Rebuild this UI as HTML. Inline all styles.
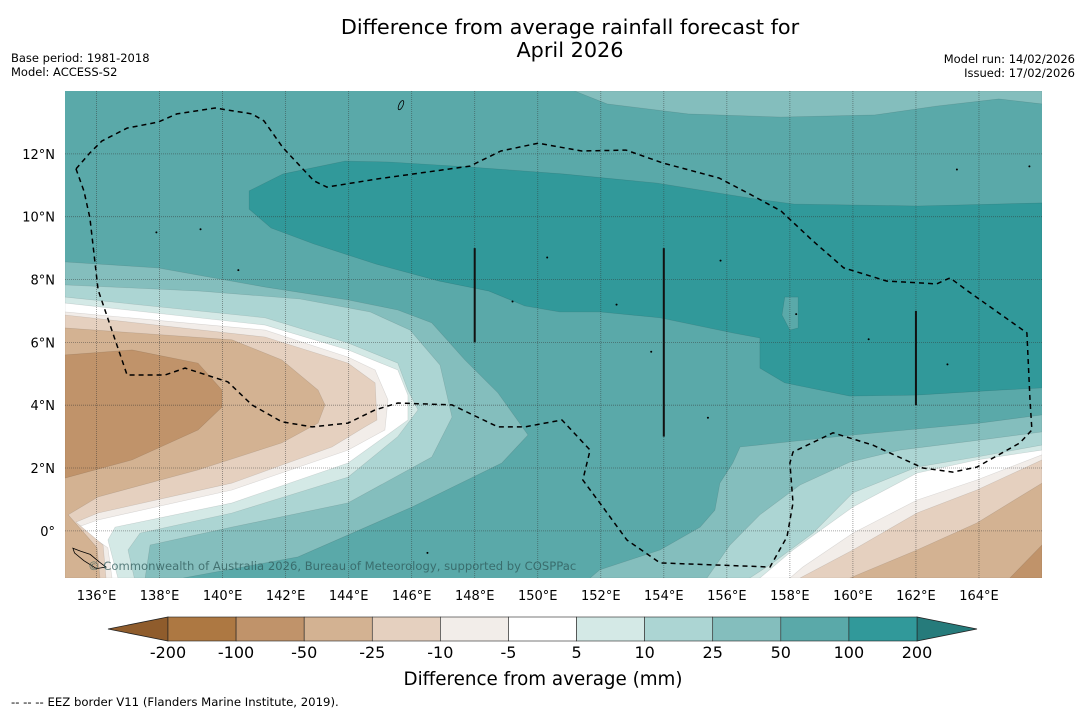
<!DOCTYPE html>
<html><head><meta charset="utf-8">
<style>
html,body{margin:0;padding:0;background:#fff;}
body{width:1085px;height:713px;overflow:hidden;font-family:"DejaVu Sans","Liberation Sans",sans-serif;}
</style></head>
<body>
<svg id="chart" width="1085" height="713" viewBox="0 0 1085 713" xmlns="http://www.w3.org/2000/svg" font-family="DejaVu Sans, Liberation Sans, sans-serif">
  <text x="570" y="34" font-size="20.8" text-anchor="middle" fill="#000">Difference from average rainfall forecast for</text>
  <text x="570" y="57" font-size="20.8" text-anchor="middle" fill="#000">April 2026</text>
  <text x="11" y="62" font-size="11.5">Base period: 1981-2018</text>
  <text x="11" y="76" font-size="11.5">Model: ACCESS-S2</text>
  <text x="1075" y="63" font-size="11.5" text-anchor="end">Model run: 14/02/2026</text>
  <text x="1075" y="77" font-size="11.5" text-anchor="end">Issued: 17/02/2026</text>
  <defs><clipPath id="mapclip"><rect x="65" y="91" width="977" height="487"/></clipPath></defs>
  <g id="map" clip-path="url(#mapclip)"></g>
  <g id="axes"></g>
  <g id="cbar"></g>
  <text x="543" y="685" font-size="18.3" text-anchor="middle">Difference from average (mm)</text>
  <text x="11" y="706" font-size="11.7">--  --  -- EEZ border V11 (Flanders Marine Institute, 2019).</text>
</svg>
<script>
const colors = ['#ad7842','#c0936a','#d3b292','#e5d0bf','#f2ede9','#ffffff','#d4e9e6','#acd5d3','#84bebd','#5aa9a9','#31999a'];
const lowExt = '#8f5c2c', highExt = '#267b7b';
const levelLabels = ['-200','-100','-50','-25','-10','-5','5','10','25','50','100','200'];
const lonTicks = [136,138,140,142,144,146,148,150,152,154,156,158,160,162,164];
const latTicks = [0,2,4,6,8,10,12];
const lonMin=135, lonMax=166, latMin=-1.5, latMax=14;

// contour polygons [lon,lat]
const topLight = [[151.17,14],[152.20,13.59],[154.77,13.27],[157.72,13.17],[160.70,13.24],[162.66,13.52],[164.63,13.75],[166,13.59],[166,14]];
const darkBand = [[140.84,10.82],[141.92,11.36],[143.88,11.77],[145.28,11.74],[147.85,11.58],[150.80,11.36],[153.78,11.07],[156.73,10.59],[158.13,10.40],[162.06,10.34],[166,10.44],[166,4.55],[164.66,4.48],[162.03,4.32],[159.9,4.29],[157.84,4.71],[157.05,5.18],[157.05,6.14],[156.19,6.30],[153.88,6.78],[151.97,6.97],[150.70,6.97],[149.59,7.16],[148.45,7.63],[146.87,7.95],[144.87,8.49],[142.90,9.13],[141.54,9.64],[140.84,10.24]];
const lightPatch = [[157.84,7.44],[158.26,7.44],[158.26,6.46],[158.0,6.39],[157.75,6.87]];
const left50 = [[135,8.56],[137.95,8.37],[141.35,7.76],[143.98,7.35],[145.56,7.03],[146.64,6.62],[147.69,5.44],[148.74,4.39],[149.69,3.05],[148.86,2.16],[146.01,0.76],[142.39,-0.83],[138.74,-1.5],[135,-1.5]];
const left25 = [[135,7.83],[139.28,7.63],[142.46,7.38],[144.68,6.97],[145.95,6.39],[146.90,5.28],[147.28,3.62],[146.64,2.35],[143.98,0.89],[140.30,0.12],[137.70,-0.45],[137.54,-1.5],[135,-1.5]];
const left10 = [[135,7.44],[141.35,6.78],[143.98,5.98],[145.56,5.34],[145.88,4.48],[146.20,3.85],[145.56,3.0],[143.98,1.71],[140.30,0.57],[137.38,-0.07],[137.0,-0.61],[137.2,-1.5],[135,-1.5]];
const left5 = [[135,7.25],[141.35,6.55],[143.98,5.76],[145.56,5.12],[145.88,4.32],[145.88,3.53],[145.15,3.0],[143.98,2.16],[140.30,0.89],[136.59,0.12],[136.36,-0.29],[136.68,-1.5],[135,-1.5]];
const leftM5 = [[135,6.97],[141.35,6.39],[143.98,5.53],[144.84,5.12],[145.25,4.17],[145.15,3.21],[143.98,2.57],[140.30,1.30],[136.05,0.35],[135.41,0.12],[136.36,-0.54],[136.49,-1.5],[135,-1.5]];
const leftM10 = [[135,6.87],[141.35,6.17],[143.98,5.34],[144.84,4.71],[144.90,3.53],[144.52,3.31],[143.47,2.67],[140.30,1.52],[136.05,0.57],[135.35,0.28],[136.21,-0.45],[136.30,-1.5],[135,-1.5]];
const leftM25 = [[135,6.46],[140.30,6.08],[141.88,5.44],[143.03,4.48],[143.25,4.01],[143.03,3.43],[141.88,2.80],[139.22,1.94],[136.05,1.08],[135.10,0.51],[136.02,-0.54],[136.11,-1.5],[135,-1.5]];
const leftM50 = [[135,5.60],[137.13,5.76],[139.22,5.34],[139.98,4.48],[139.98,3.94],[139.22,3.21],[137.13,2.26],[135,1.68]];
const right50 = [[166,3.69],[164.03,3.43],[160.0,3.05],[156.42,2.67],[156.19,2.16],[155.78,1.52],[155.62,0.66],[155.15,0.12],[153.88,-0.61],[151.97,-1.24],[151.66,-1.5],[166,-1.5]];
const right25 = [[166,3.15],[164.03,2.89],[161.49,2.57],[159.90,2.19],[158.32,1.46],[157.05,0.51],[156.10,-0.45],[155.37,-1.5],[166,-1.5]];
const right10 = [[166,2.73],[163.93,2.35],[162.03,2.03],[160.0,1.21],[158.73,-0.07],[157.46,-1.02],[156.73,-1.5],[166,-1.5]];
const right5 = [[166,2.57],[163.93,2.26],[162.03,1.84],[160.0,0.76],[158.10,-0.61],[157.05,-1.5],[166,-1.5]];
const rightM5 = [[166,2.42],[163.93,1.62],[162.03,0.98],[160.0,-0.07],[158.41,-1.15],[158.0,-1.5],[166,-1.5]];
const rightM10 = [[166,2.26],[163.93,1.30],[162.03,0.57],[160.0,-0.61],[158.32,-1.5],[166,-1.5]];
const rightM25 = [[166,1.52],[163.93,0.25],[162.03,-0.61],[159.90,-1.5],[166,-1.5]];
const rightM50 = [[166,-0.45],[164.98,-1.5],[166,-1.5]];
const eezLine = [[135.35,11.52],[135.79,12.03],[136.17,12.41],[136.97,12.82],[137.95,13.01],[138.55,13.27],[139.76,13.46],[140.93,13.27],[141.31,13.05],[141.92,12.19],[142.90,11.14],[143.31,10.94],[144.90,11.20],[147.85,11.61],[148.83,12.09],[150.01,12.34],[151.40,12.09],[152.80,12.12],[153.97,11.71],[155.75,11.23],[156.73,10.72],[157.72,10.18],[158.73,9.23],[159.71,8.37],[161.08,7.95],[162.66,7.86],[163.08,8.05],[163.65,7.63],[165.52,6.30],[165.62,4.17],[165.68,3.21],[165.30,2.80],[163.93,2.03],[163.17,1.87],[162.22,2.00],[160.63,2.73],[159.37,3.12],[158.10,2.51],[158.0,2.16],[158.10,0.89],[157.91,-0.19],[157.37,-1.15],[153.88,-1.02],[152.83,-0.29],[151.97,0.89],[151.43,1.62],[151.66,2.57],[150.77,3.53],[149.59,3.31],[148.74,3.31],[147.28,4.01],[145.56,4.07],[144.84,3.85],[143.98,3.43],[142.84,3.31],[141.88,3.47],[140.93,4.01],[140.17,4.74],[138.81,5.18],[138.17,4.96],[136.97,4.96],[136.05,7.67],[135.79,9.96],[135.60,10.82],[135.35,11.52]];
const meridianLons = [148,154,162];
const meridianTop = [9,9,7];
const meridianBottom = [6,3,4];
const islands = [[139.3,9.6],[137.9,9.5],[155.8,8.6],[152.5,7.2],[153.6,5.7],[158.2,6.9],[163.0,5.3],[160.5,6.1],[163.3,11.5],[165.6,11.6],[140.5,8.3],[149.2,7.3],[150.3,8.7],[155.4,3.6],[146.5,-0.7]];
const coastBits = [[135.25,-0.55],[135.5,-0.65],[135.8,-0.75],[136.1,-1.0],[136.3,-1.15],[136.0,-1.2],[135.6,-0.95],[135.3,-0.7]];

const NS='http://www.w3.org/2000/svg';
const X = lon => 65 + (lon-lonMin)*977/(lonMax-lonMin);
const Y = lat => 91 + (latMax-lat)*487/(latMax-latMin);
const mk = (tag, attrs, parent) => { const e=document.createElementNS(NS,tag); for(const k in attrs) e.setAttribute(k,attrs[k]); parent.appendChild(e); return e; };
const pts = arr => arr.map(p=>X(p[0]).toFixed(1)+','+Y(p[1]).toFixed(1)).join(' ');
const map=document.getElementById('map');

const bg = mk('rect',{x:65,y:91,width:977,height:487,fill:colors[9]},map);



const layers = [
  ['contour-top-25-50',topLight,8],['contour-100-200',darkBand,10],['contour-patch-50-100',lightPatch,9],
  ['contour-left-25-50',left50,8],['contour-left-10-25',left25,7],['contour-left-5-10',left10,6],['contour-left-neutral',left5,5],
  ['contour-left-minus5',leftM5,4],['contour-left-minus10',leftM10,3],['contour-left-minus25',leftM25,2],['contour-left-minus50',leftM50,1],
  ['contour-right-25-50',right50,8],['contour-right-10-25',right25,7],['contour-right-5-10',right10,6],['contour-right-neutral',right5,5],
  ['contour-right-minus5',rightM5,4],['contour-right-minus10',rightM10,3],['contour-right-minus25',rightM25,2],['contour-right-minus50',rightM50,1]
];
layers.forEach(l=>{
  const p=mk('polygon',{points:pts(l[1]),fill:colors[l[2]],stroke:'rgba(0,0,0,0.12)','stroke-width':0.6},map);
  
  
});

lonTicks.forEach(lo=>{
  const g=mk('line',{x1:X(lo),x2:X(lo),y1:91,y2:578,stroke:'#333','stroke-opacity':0.55,'stroke-width':0.8,'stroke-dasharray':'1,1'},map);
  
  
});
latTicks.forEach(la=>{
  const g=mk('line',{x1:65,x2:1042,y1:Y(la),y2:Y(la),stroke:'#333','stroke-opacity':0.55,'stroke-width':0.8,'stroke-dasharray':'1,1'},map);
  
  
});

islands.forEach(p=>{
  const c=mk('circle',{cx:X(p[0]),cy:Y(p[1]),r:1,fill:'#000'},map);
  
  
});
const guam=mk('ellipse',{cx:X(145.66),cy:Y(13.55),rx:2,ry:5,fill:'none',stroke:'#000','stroke-width':0.8,transform:'rotate(25 '+X(145.66)+' '+Y(13.55)+')'},map);


const coast=mk('polygon',{points:pts(coastBits),fill:'none',stroke:'#000','stroke-width':0.8},map);



const eez=mk('polyline',{points:pts(eezLine),fill:'none',stroke:'#000','stroke-width':1.5,'stroke-dasharray':'5,4'},map);


meridianLons.forEach((lo,i)=>{
  const l=mk('line',{x1:X(lo),x2:X(lo),y1:Y(meridianTop[i]),y2:Y(meridianBottom[i]),stroke:'#111','stroke-width':2},map);
  
  
});
const cp=mk('text',{x:88,y:570,'font-size':11.6,fill:'#2f5a5a','fill-opacity':0.75},map);
cp.textContent='© Commonwealth of Australia 2026, Bureau of Meteorology, supported by COSPPac';



const axes=document.getElementById('axes');
lonTicks.forEach(lo=>{
  const t=mk('text',{x:X(lo),y:600,'font-size':13,'text-anchor':'middle'},axes);
  t.textContent=lo+'°E';
  
  
});
latTicks.forEach(la=>{
  const t=mk('text',{x:55,y:Y(la)+5,'font-size':13,'text-anchor':'end'},axes);
  t.textContent=la===0?'0°':la+'°N';
  
  
});

const cb=document.getElementById('cbar');
const cx0=168, cx1=917, cy0=617, cy1=641, bw=(cx1-cx0)/colors.length;
const lt=mk('polygon',{points:`${cx0},${cy0} ${cx0},${cy1} 108,${(cy0+cy1)/2}`,fill:lowExt,stroke:'#222','stroke-width':0.8},cb);


const rt=mk('polygon',{points:`${cx1},${cy0} ${cx1},${cy1} 977,${(cy0+cy1)/2}`,fill:highExt,stroke:'#222','stroke-width':0.8},cb);


colors.forEach((c,i)=>{
  const r=mk('rect',{x:cx0+i*bw,y:cy0,width:bw,height:cy1-cy0,fill:c,stroke:'#222','stroke-width':0.6},cb);
  
  
});
levelLabels.forEach((s,i)=>{
  const t=mk('text',{x:cx0+i*bw,y:658,'font-size':16,'text-anchor':'middle'},cb);
  t.textContent=s;
  
  
});
</script>
</body></html>
